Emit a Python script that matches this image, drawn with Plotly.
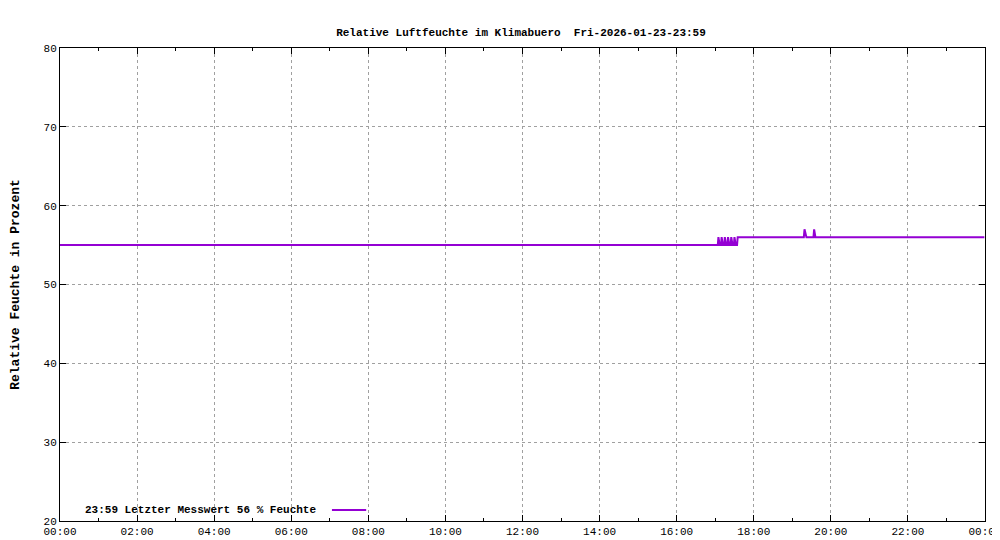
import plotly.graph_objects as go

minutes = [0, 1024, 1025, 1027, 1029, 1030, 1032, 1034, 1035, 1037, 1039, 1040, 1042, 1044, 1045, 1047, 1049, 1050, 1052, 1054, 1055, 1057, 1158, 1159, 1162, 1173, 1174, 1176, 1439]
values  = [55,  55,   56,   55,   55,   56,   55,   55,   56,   55,   55,   56,   55,   55,   56,   55,   55,   56,   55,   55,   56,   56,   56,   57,   56,   56,   57,   56,   56]
tick_vals = list(range(0, 1441, 120))
tick_text = ["%02d:00" % ((m // 60) % 24) for m in tick_vals]
title = "Relative Luftfeuchte im Klimabuero  Fri-2026-01-23-23:59"
legend_text = "23:59 Letzter Messwert 56 % Feuchte"

font = dict(family="Liberation Mono", size=11, color="black")
fig = go.Figure(go.Scatter(x=minutes, y=values, mode="lines", line=dict(color="#9400d3", width=2, shape="linear")))
grid = dict(showgrid=True, gridcolor="#a0a0a0", griddash="dot", gridwidth=1,
            showline=True, linecolor="black", linewidth=1, mirror="ticks",
            ticks="inside", ticklen=6, tickcolor="black", zeroline=False, automargin=False)
fig.update_xaxes(range=[0, 1440], tickvals=tick_vals, ticktext=tick_text,
                 minor=dict(dtick=60, tick0=0, ticks="inside", ticklen=3, tickcolor="black", showgrid=False), **grid)
fig.update_yaxes(range=[20, 80], dtick=10, title=dict(text="<b>Relative Feuchte in Prozent</b>", standoff=22),
                 tickformat="d", **grid)
fig.add_annotation(text="<b>" + legend_text + "</b>", xref="paper", yref="paper", x=0.279, y=0.023,
                   xanchor="right", yanchor="middle", showarrow=False, font=font)
fig.add_shape(type="line", xref="paper", yref="paper", x0=0.294, x1=0.331, y0=0.023, y1=0.023,
              line=dict(color="#9400d3", width=2))
fig.update_layout(width=1000, height=540, margin=dict(l=52, r=23, t=40, b=27),
                  paper_bgcolor="white", plot_bgcolor="white", font=font, showlegend=False,
                  title=dict(text="<b>" + title + "</b>", x=0.513, xanchor="center", y=0.963, font=font))
fig.write_html("out.html")
